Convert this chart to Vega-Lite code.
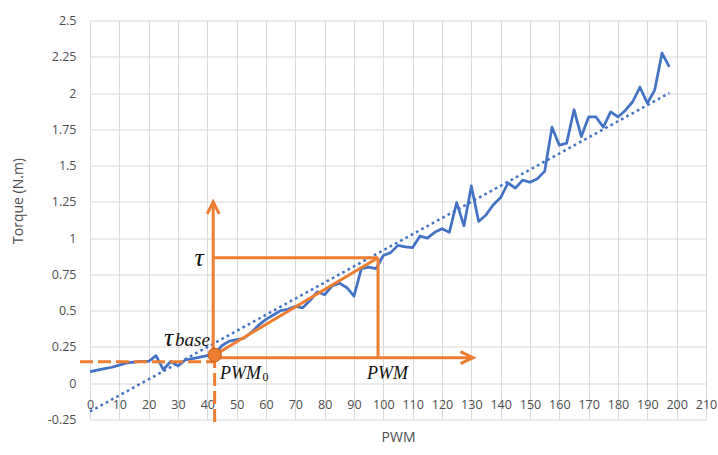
{
  "$schema": "https://vega.github.io/schema/vega-lite/v6.json",
  "width": 616,
  "height": 399,
  "autosize": {"type": "none"},
  "padding": {"left": 90, "top": 20.5, "right": 12, "bottom": 35.5},
  "background": "white",
  "config": {"view": {"stroke": null}, "axis": {"labelOverlap": false, "labelBound": false, "labelFlush": false}},
  "datasets": {
    "torque": [
      {"pwm": 0, "torque": 0.08}, {"pwm": 2.5, "torque": 0.09}, {"pwm": 5, "torque": 0.1}, {"pwm": 7.5, "torque": 0.11},
      {"pwm": 10, "torque": 0.125}, {"pwm": 12.5, "torque": 0.14}, {"pwm": 15, "torque": 0.145}, {"pwm": 17.5, "torque": 0.15},
      {"pwm": 20, "torque": 0.15}, {"pwm": 22.5, "torque": 0.19}, {"pwm": 25, "torque": 0.093}, {"pwm": 27.5, "torque": 0.15},
      {"pwm": 30, "torque": 0.12}, {"pwm": 32.5, "torque": 0.16}, {"pwm": 35, "torque": 0.17}, {"pwm": 37.5, "torque": 0.18},
      {"pwm": 40, "torque": 0.19}, {"pwm": 42.5, "torque": 0.2}, {"pwm": 45, "torque": 0.26}, {"pwm": 47.5, "torque": 0.29},
      {"pwm": 50, "torque": 0.3}, {"pwm": 52.5, "torque": 0.31}, {"pwm": 55, "torque": 0.35}, {"pwm": 57.5, "torque": 0.4},
      {"pwm": 60, "torque": 0.44}, {"pwm": 62.5, "torque": 0.47}, {"pwm": 65, "torque": 0.5}, {"pwm": 67.5, "torque": 0.51},
      {"pwm": 70, "torque": 0.53}, {"pwm": 72.5, "torque": 0.52}, {"pwm": 75, "torque": 0.57}, {"pwm": 77.5, "torque": 0.63},
      {"pwm": 80, "torque": 0.61}, {"pwm": 82.5, "torque": 0.67}, {"pwm": 85, "torque": 0.69}, {"pwm": 87.5, "torque": 0.66},
      {"pwm": 90, "torque": 0.6}, {"pwm": 92.5, "torque": 0.79}, {"pwm": 95, "torque": 0.8}, {"pwm": 97.5, "torque": 0.79},
      {"pwm": 100, "torque": 0.88}, {"pwm": 102.5, "torque": 0.9}, {"pwm": 105, "torque": 0.95}, {"pwm": 107.5, "torque": 0.94},
      {"pwm": 110, "torque": 0.935}, {"pwm": 112.5, "torque": 1.015}, {"pwm": 115, "torque": 1.0}, {"pwm": 117.5, "torque": 1.04},
      {"pwm": 120, "torque": 1.065}, {"pwm": 122.5, "torque": 1.04}, {"pwm": 125, "torque": 1.245}, {"pwm": 127.5, "torque": 1.085},
      {"pwm": 130, "torque": 1.36}, {"pwm": 132.5, "torque": 1.115}, {"pwm": 135, "torque": 1.16}, {"pwm": 137.5, "torque": 1.23},
      {"pwm": 140, "torque": 1.28}, {"pwm": 142.5, "torque": 1.38}, {"pwm": 145, "torque": 1.345}, {"pwm": 147.5, "torque": 1.4},
      {"pwm": 150, "torque": 1.385}, {"pwm": 152.5, "torque": 1.41}, {"pwm": 155, "torque": 1.46}, {"pwm": 157.5, "torque": 1.765},
      {"pwm": 160, "torque": 1.64}, {"pwm": 162.5, "torque": 1.655}, {"pwm": 165, "torque": 1.885}, {"pwm": 167.5, "torque": 1.7},
      {"pwm": 170, "torque": 1.835}, {"pwm": 172.5, "torque": 1.835}, {"pwm": 175, "torque": 1.765}, {"pwm": 177.5, "torque": 1.87},
      {"pwm": 180, "torque": 1.835}, {"pwm": 182.5, "torque": 1.88}, {"pwm": 185, "torque": 1.94}, {"pwm": 187.5, "torque": 2.04},
      {"pwm": 190, "torque": 1.93}, {"pwm": 192.5, "torque": 2.02}, {"pwm": 195, "torque": 2.275}, {"pwm": 197.5, "torque": 2.18}
    ],
    "trend": [{"pwm": 0, "torque": -0.195}, {"pwm": 197.5, "torque": 2.0}],
    "solidSeg": [
      {"pwm": 42.5, "torque": 0.176, "pwm2": 130.4, "torque2": 0.176},
      {"pwm": 42, "torque": 0.176, "pwm2": 42, "torque2": 1.248},
      {"pwm": 42, "torque": 0.865, "pwm2": 98.2, "torque2": 0.865},
      {"pwm": 98.2, "torque": 0.865, "pwm2": 98.2, "torque2": 0.176},
      {"pwm": 42.5, "torque": 0.195, "pwm2": 98.2, "torque2": 0.865}
    ],
    "dashSeg": [
      {"pwm": -3.4, "torque": 0.148, "pwm2": 42.5, "torque2": 0.148},
      {"pwm": 42.5, "torque": 0.195, "pwm2": 42.5, "torque2": -0.3}
    ],
    "arrowRight": [{"pwm": 130.6, "torque": 0.176}],
    "arrowUp": [{"pwm": 42, "torque": 1.25}],
    "origin": [{"pwm": 42.5, "torque": 0.195}],
    "tauLabel": [{"pwm": 37.2, "torque": 0.81, "t": "τ"}, {"pwm": 26.8, "torque": 0.26, "t": "τ"}],
    "subBase": [{"pwm": 29.0, "torque": 0.255, "t": "base"}],
    "pwmLabel": [{"pwm": 44.3, "torque": 0.031, "t": "PWM"}, {"pwm": 94.4, "torque": 0.031, "t": "PWM"}],
    "subZero": [{"pwm": 58.8, "torque": 0.012, "t": "0"}]
  },
  "encoding": {
    "x": {
      "field": "pwm", "type": "quantitative",
      "scale": {"domain": [0, 210], "nice": false, "zero": false},
      "axis": {
        "values": [0,10,20,30,40,50,60,70,80,90,100,110,120,130,140,150,160,170,180,190,200,210],
        "offset": -36, "grid": true, "gridColor": "#d9d9d9", "gridWidth": 1,
        "domain": false, "ticks": false, "labelPadding": 14.5, "labelOverlap": false,
        "labelFont": "Open Sans", "labelFontSize": 12.5, "labelColor": "#4d4d4d",
        "title": "PWM", "titleFont": "Open Sans", "titleFontSize": 14, "titleFontWeight": "normal",
        "titleColor": "#4d4d4d", "titleY": 54, "titleBaseline": "middle"
      }
    },
    "y": {
      "field": "torque", "type": "quantitative",
      "scale": {"domain": [-0.25, 2.5], "nice": false, "zero": false},
      "axis": {
        "values": [-0.25,0,0.25,0.5,0.75,1,1.25,1.5,1.75,2,2.25,2.5],
        "grid": true, "gridColor": "#d9d9d9", "gridWidth": 1,
        "domain": false, "ticks": false, "labelPadding": 14, "labelOverlap": false,
        "labelExpr": "datum.value + ''",
        "labelFont": "Open Sans", "labelFontSize": 12.5, "labelColor": "#4d4d4d",
        "title": "Torque (N.m)", "titleFont": "Open Sans", "titleFontSize": 14, "titleFontWeight": "normal",
        "titleColor": "#4d4d4d", "titleX": -72, "titleY": 180, "titleBaseline": "middle"
      }
    }
  },
  "layer": [
    {
      "data": {"name": "torque"},
      "mark": {"type": "line", "color": "#4472C4", "strokeWidth": 2.75, "strokeJoin": "round"}
    },
    {
      "data": {"name": "trend"},
      "mark": {"type": "line", "color": "#4472C4", "strokeWidth": 2.5, "strokeDash": [2.7, 3.3]}
    },
    {
      "data": {"name": "dashSeg"},
      "mark": {"type": "rule", "color": "#ED7D31", "strokeWidth": 3, "strokeDash": [13, 5]},
      "encoding": {"x2": {"field": "pwm2"}, "y2": {"field": "torque2"}}
    },
    {
      "data": {"name": "solidSeg"},
      "mark": {"type": "rule", "color": "#ED7D31", "strokeWidth": 3},
      "encoding": {"x2": {"field": "pwm2"}, "y2": {"field": "torque2"}}
    },
    {
      "data": {"name": "arrowRight"},
      "mark": {"type": "point", "shape": "M-2.1,-1L0,0L-2.1,1", "filled": false, "stroke": "#ED7D31", "strokeWidth": 3, "size": 144, "opacity": 1, "strokeJoin": "miter"}
    },
    {
      "data": {"name": "arrowUp"},
      "mark": {"type": "point", "shape": "M-1,2L0,0L1,2", "filled": false, "stroke": "#ED7D31", "strokeWidth": 3, "size": 144, "opacity": 1, "strokeJoin": "miter"}
    },
    {
      "data": {"name": "origin"},
      "mark": {"type": "point", "shape": "circle", "filled": true, "fill": "#ED7D31", "stroke": "#C55A11", "strokeWidth": 1, "size": 180, "opacity": 1}
    },
    {
      "data": {"name": "tauLabel"},
      "mark": {"type": "text", "font": "Liberation Serif", "fontStyle": "italic", "fontSize": 26, "align": "center", "baseline": "alphabetic", "color": "#111111"},
      "encoding": {"text": {"field": "t"}}
    },
    {
      "data": {"name": "subBase"},
      "mark": {"type": "text", "font": "Liberation Serif", "fontStyle": "italic", "fontSize": 19, "align": "left", "baseline": "alphabetic", "color": "#111111"},
      "encoding": {"text": {"field": "t"}}
    },
    {
      "data": {"name": "pwmLabel"},
      "mark": {"type": "text", "font": "Liberation Serif", "fontStyle": "italic", "fontSize": 18, "align": "left", "baseline": "alphabetic", "color": "#111111"},
      "encoding": {"text": {"field": "t"}}
    },
    {
      "data": {"name": "subZero"},
      "mark": {"type": "text", "font": "Liberation Serif", "fontSize": 12, "align": "left", "baseline": "alphabetic", "color": "#111111"},
      "encoding": {"text": {"field": "t"}}
    }
  ]
}
